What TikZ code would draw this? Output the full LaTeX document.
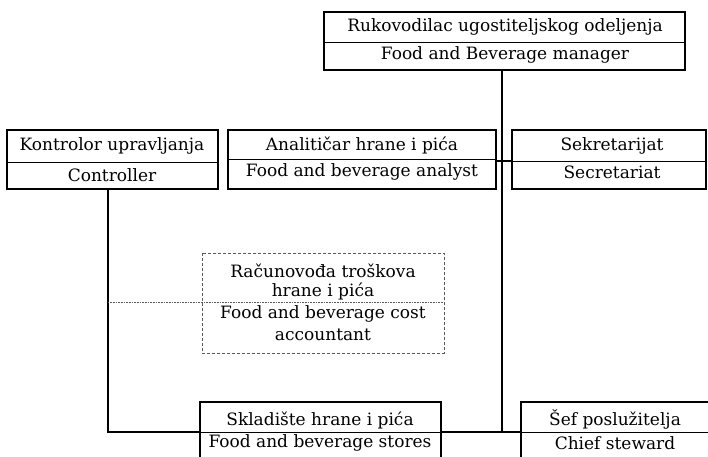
\documentclass[tikz,border=0pt]{standalone}
\usepackage{fontspec}
\setmainfont{DejaVu Serif}
\begin{document}
\begin{tikzpicture}[x=1pt,y=-1pt,
  box/.style={draw,line width=2.6pt},
  dbox/.style={draw,densely dashed,line width=0.5pt,gray!70!black},
  lbl/.style={inner sep=0pt,font=\fontsize{17}{19}\selectfont,anchor=center},
  divider/.style={line width=0.7pt},
  link/.style={line width=1.4pt},
  dotlink/.style={densely dotted,line width=0.6pt,gray!70!black}]
\useasboundingbox (0,0) rectangle (708,456);
\clip (0,0) rectangle (708,456);

% food and beverage manager
\draw[box] (324,12) rectangle (685,70);
\coordinate (mgr) at (502,70);
\draw[divider] (324,42) -- (685,42);
\node[lbl] (mgr1) at (505,27) {Rukovodilac ugostiteljskog odeljenja};
\node[lbl] (mgr2) at (505,55) {Food and Beverage manager};

% controller
\draw[box] (7,130) rectangle (218,189);
\coordinate (ctl) at (108,189);
\draw[divider] (7,162) -- (218,162);
\node[lbl] (ctl1) at (112,146) {Kontrolor upravljanja};
\node[lbl] (ctl2) at (112,175) {Controller};

% analyst
\draw[box] (228,130) rectangle (496,189);
\coordinate (ana) at (496,161);
\draw[divider] (228,159) -- (496,159);
\node[lbl] (ana1) at (362,145) {Analitičar hrane i pića};
\node[lbl] (ana2) at (362,172) {Food and beverage analyst};

% secretariat
\draw[box] (512,130) rectangle (706,189);
\coordinate (sec) at (512,161);
\draw[divider] (512,161) -- (706,161);
\node[lbl] (sec1) at (612,146) {Sekretarijat};
\node[lbl] (sec2) at (612,172) {Secretariat};

% cost accountant
\draw[dbox] (202,253) rectangle (444,353);
\coordinate (acc) at (444,302);
\node[lbl] (acc1) at (323,271) {Računovođa troškova};
\node[lbl] (acc2) at (323,291) {hrane i pića};
\node[lbl] (acc3) at (323,314) {Food and beverage cost};
\node[lbl] (acc4) at (323,335) {accountant};

% stores
\draw[box] (200,402) rectangle (441,470);
\coordinate (sto-w) at (200,432);
\coordinate (sto-e) at (441,432);
\draw[divider] (200,432) -- (441,432);
\node[lbl] (sto1) at (320,420) {Skladište hrane i pića};
\node[lbl] (sto2) at (320,443) {Food and beverage stores};

% chief steward
\draw[box] (521,402) rectangle (720,470);
\coordinate (chf) at (521,432);
\draw[divider] (521,432) -- (720,432);
\node[lbl] (chf1) at (615,419) {Šef poslužitelja};
\node[lbl] (chf2) at (615,443) {Chief steward};

% connectors
\coordinate (mgrdown) at (502,432);
\coordinate (ctldown) at (108,432);
\coordinate (ctlmid) at (108,302);
\draw[link] (mgr) -- (mgrdown);
\draw[link] (ana) -- (sec);
\draw[link] (ctl) -- (ctldown) -- (sto-w);
\draw[link] (sto-e) -- (chf);
\draw[dotlink] (ctlmid) -- (acc);
\end{tikzpicture}
\end{document}
